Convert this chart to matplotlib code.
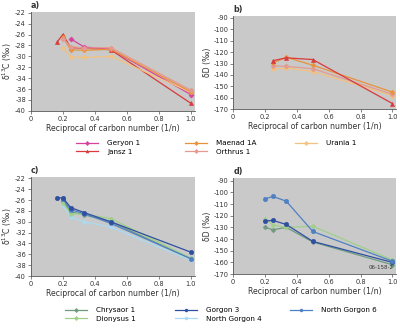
import matplotlib
matplotlib.use("Agg")
import matplotlib.pyplot as plt
from matplotlib.lines import Line2D
from matplotlib.ticker import FuncFormatter

plt.rcParams['font.family'] = ['DejaVu Sans']
plt.rcParams['axes.unicode_minus'] = False

# reciprocal carbon numbers 1/n for C6..C1
x6 = [1/6, 1/5, 1/4, 1/3, 1/2, 1.0]
x5 = [1/5, 1/4, 1/3, 1/2, 1.0]
x4 = [1/4, 1/3, 1/2, 1.0]

# --- Panel a: d13C, first well group ---
geryon_c13 = [-26.8, -28.3, -28.7, -37.0]
jansz_c13 = [-27.3, -26.0, -28.4, -28.5, -28.8, -38.6]
maenad_c13 = [-26.5, -28.8, -28.9, -28.7, -36.5]
orthrus_c13 = [-26.8, -28.2, -28.5, -28.4, -36.2]
urania_c13 = [-28.4, -30.1, -30.2, -30.0, -36.6]

# --- Panel b: dD, first well group ---
jansz_dD = [-127.5, -125.0, -126.5, -165.0]
maenad_dD = [-129.5, -124.5, -131.5, -155.0]
orthrus_dD = [-132.0, -132.5, -134.5, -157.0]
urania_dD = [-135.0, -134.0, -137.0, -158.0]

# --- Panel c: d13C, second well group ---
gorgon3_c13 = [-25.6, -25.6, -27.4, -28.3, -30.0, -35.6]
ngorgon6_c13 = [-25.8, -27.8, -28.5, -30.3, -36.8]
chrysaor_c13 = [-26.2, -28.2, -28.7, -30.0, -36.8]
dionysus_c13 = [-26.5, -28.5, -28.6, -29.4, -36.7]
ngorgon4_c13 = [-27.0, -29.1, -30.0, -31.0, -37.1]

# --- Panel d: dD, second well group ---
ngorgon6_dD = [-105.5, -103.5, -107.5, -133.5, -159.0]
gorgon3_dD = [-124.5, -124.0, -127.5, -142.0, -160.0]
dionysus_dD = [-122.5, -128.0, -130.0, -129.0, -158.0]
chrysaor_dD = [-130.0, -132.0, -130.0, -142.5, -162.0]

C_GERYON = '#d8429c'
C_JANSZ = '#d93a3c'
C_MAENAD = '#e8923c'
C_ORTHRUS = '#e49a90'
C_URANIA = '#f3c27e'
C_CHRYS = '#6e9a7e'
C_DIONY = '#9fd088'
C_GORG3 = '#2f50a0'
C_NG4 = '#a9dbf2'
C_NG6 = '#4f80c4'

BG = '#c9c9c9'
SPINE = '#555555'

W, H = 400, 331
fig = plt.figure(figsize=(W / 100, H / 100), dpi=100)


def style(ax, ylim, yticks, ylabel, tag):
    ax.set_facecolor(BG)
    ax.set_xlim(0, 1.025)
    ax.set_ylim(*ylim)
    ax.set_xticks([0, 0.2, 0.4, 0.6, 0.8, 1.0])
    ax.xaxis.set_major_formatter(FuncFormatter(lambda v, p: '0' if v == 0 else f'{v:.1f}'))
    ax.set_yticks(yticks)
    for s in ['top', 'right']:
        ax.spines[s].set_visible(False)
    for s in ['left', 'bottom']:
        ax.spines[s].set_color(SPINE)
        ax.spines[s].set_linewidth(0.6)
    ax.tick_params(axis='both', labelsize=4.8, length=2, width=0.5,
                   color=SPINE, labelcolor='#333333', pad=1.5)
    ax.set_xlabel('Reciprocal of carbon number (1/n)', fontsize=5.6,
                  color='#333333', labelpad=1.5)
    ax.set_ylabel(ylabel, fontsize=5.6, color='#333333', labelpad=1)
    ax.text(0.0, 1.02, tag, transform=ax.transAxes, fontsize=5.8,
            fontweight='bold', ha='left', va='bottom', color='#333333')


def series(ax, x, y, color, marker, ms):
    ax.plot(x, y, color=color, lw=0.9, marker=marker, ms=ms,
            markeredgewidth=0.4, markeredgecolor=color)


c13_ticks = list(range(-40, -21, 2))
dD_ticks = list(range(-170, -89, 10))
c13_label = 'δ$^{13}$C (‰)'
dD_label = 'δD (‰)'

axa = fig.add_axes([0.077, 0.665, 0.41, 0.300])
style(axa, (-40, -21.8), c13_ticks, c13_label, 'a)')
series(axa, x4, geryon_c13, C_GERYON, 'D', 2.6)
series(axa, x6, jansz_c13, C_JANSZ, '^', 3.0)
series(axa, x5, urania_c13, C_URANIA, 'D', 2.4)
series(axa, x5, maenad_c13, C_MAENAD, 'D', 2.4)
series(axa, x5, orthrus_c13, C_ORTHRUS, 'D', 2.6)

axb = fig.add_axes([0.583, 0.670, 0.408, 0.283])
style(axb, (-170, -88), dD_ticks, dD_label, 'b)')
series(axb, x4, urania_dD, C_URANIA, 'D', 2.4)
series(axb, x4, orthrus_dD, C_ORTHRUS, 'D', 2.6)
series(axb, x4, maenad_dD, C_MAENAD, 'D', 2.4)
series(axb, x4, jansz_dD, C_JANSZ, '^', 3.0)

axc = fig.add_axes([0.077, 0.166, 0.41, 0.2985])
style(axc, (-40, -21.8), c13_ticks, c13_label, 'c)')
series(axc, x5, ngorgon4_c13, C_NG4, 'o', 2.6)
series(axc, x5, chrysaor_c13, C_CHRYS, 'D', 2.4)
series(axc, x5, dionysus_c13, C_DIONY, 'D', 2.4)
series(axc, x5, ngorgon6_c13, C_NG6, 'o', 3.0)
series(axc, x6, gorgon3_c13, C_GORG3, 'o', 3.2)

axd = fig.add_axes([0.583, 0.172, 0.408, 0.289])
style(axd, (-170, -88), dD_ticks, dD_label, 'd)')
series(axd, x5, chrysaor_dD, C_CHRYS, 'D', 2.4)
series(axd, x5, dionysus_dD, C_DIONY, 'D', 2.4)
series(axd, x5, gorgon3_dD, C_GORG3, 'o', 3.2)
series(axd, x5, ngorgon6_dD, C_NG6, 'o', 3.2)
axd.text(0.985, 0.04, '06-158-2', transform=axd.transAxes, fontsize=4.0,
         ha='right', va='bottom', color='#333333')


def handle(color, marker):
    return Line2D([], [], color=color, lw=0.9, marker=marker, ms=2.2,
                  markeredgewidth=0.3, markeredgecolor=color)


def legend_column(handles, labels, x_px, top_px):
    leg = fig.legend(handles, labels, loc='upper left',
                     bbox_to_anchor=(x_px / W, 1 - top_px / H),
                     frameon=False, fontsize=5.2, handlelength=3.0,
                     handletextpad=1.3, labelspacing=0.38, borderpad=0,
                     borderaxespad=0)
    return leg


legend_column([handle(C_GERYON, 'D'), handle(C_JANSZ, '^')],
              ['Geryon 1', 'Jansz 1'], 76, 140)
legend_column([handle(C_MAENAD, 'D'), handle(C_ORTHRUS, 'D')],
              ['Maenad 1A', 'Orthrus 1'], 185, 140)
legend_column([handle(C_URANIA, 'D')], ['Urania 1'], 295, 140)

legend_column([handle(C_CHRYS, 'D'), handle(C_DIONY, 'D')],
              ['Chrysaor 1', 'Dionysus 1'], 65, 307)
legend_column([handle(C_GORG3, 'o'), handle(C_NG4, 'o')],
              ['Gorgon 3', 'North Gorgon 4'], 175, 307)
legend_column([handle(C_NG6, 'o')], ['North Gorgon 6'], 290, 307)

fig.savefig('out.png', dpi=100, facecolor='white')
